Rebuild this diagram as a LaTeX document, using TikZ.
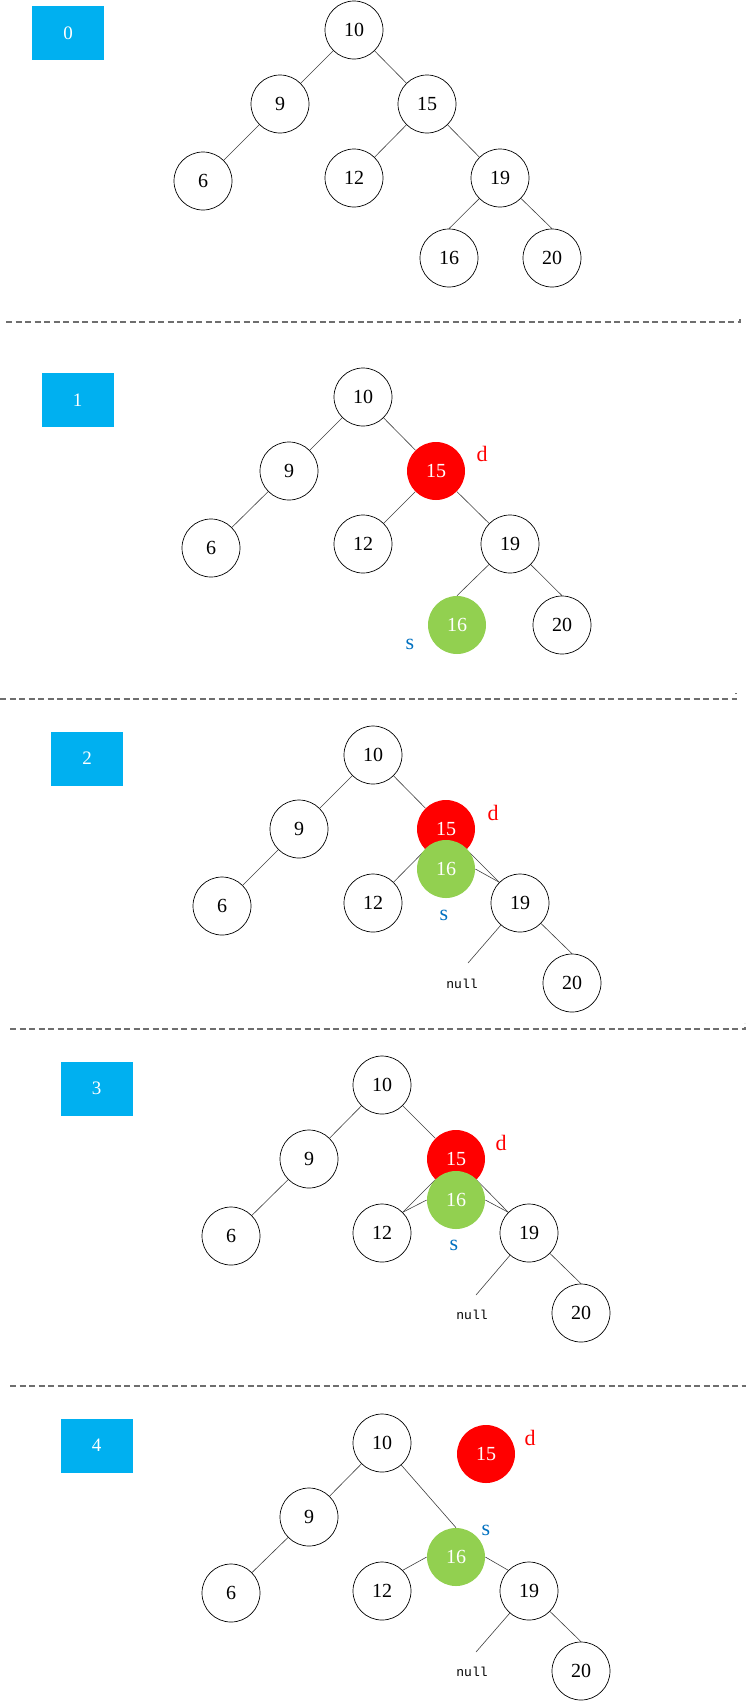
\documentclass[tikz,border=0pt]{standalone}
\usepackage{fontspec}
\setmainfont{Liberation Serif}
\newfontfamily\monofnt{Liberation Mono}
\usetikzlibrary{backgrounds}
\definecolor{boxblue}{HTML}{00B0F0}
\definecolor{sgreen}{HTML}{92D050}
\definecolor{sblue}{HTML}{0070C0}
\definecolor{linegray}{HTML}{404040}
\definecolor{dashgray}{HTML}{6E6E6E}
\tikzset{
	vtx/.style={circle, draw=black, line width=0.7pt, fill=white, minimum size=58pt, inner sep=0pt, font=\fontsize{20}{24}\selectfont},
	delvtx/.style={vtx, draw=none, fill=red, text=white},
	sucvtx/.style={vtx, draw=none, fill=sgreen, text=white},
	stagebox/.style={fill=boxblue, text=white, minimum width=72pt, minimum height=54pt, inner sep=0pt, font=\fontsize{19}{22}\selectfont},
	link/.style={draw=linegray, line width=0.6pt},
	sepline/.style={draw=dashgray, line width=1.2pt, dash pattern=on 6pt off 3.5pt},
	dtag/.style={text=red, font=\fontsize{22}{26}\selectfont},
	stag/.style={text=sblue, font=\fontsize{22}{26}\selectfont},
	niltxt/.style={font=\monofnt\fontsize{13}{15}\selectfont}
}

\begin{document}
\begin{tikzpicture}[x=1pt, y=-1pt]
		\useasboundingbox (0,0) rectangle (746,1701);
		%%%%% STAGE 0 %%%%%
		\node[stagebox] (s0) at (68,33) {0};
		\node[vtx] (a10) at (354,30) {10};
		\node[vtx] (a9) at (280,104) {9};
		\node[vtx] (a15) at (427,104) {15};
		\node[vtx] (a6) at (203,181) {6};
		\node[vtx] (a12) at (354,178) {12};
		\node[vtx] (a19) at (500,178) {19};
		\node[vtx] (a16) at (449,258) {16};
		\node[vtx] (a20) at (552,258) {20};
		\begin{scope}[on background layer]
			\draw[link] (a10) -- (a9);
			\draw[link] (a10) -- (a15);
			\draw[link] (a9) -- (a6);
			\draw[link] (a15) -- (a12);
			\draw[link] (a15) -- (a19);
			\draw[link] (a19) -- (a16.north);
			\draw[link] (a19) -- (a20.north);
		\end{scope}
		\draw[sepline] (6,322) -- (740,322) -- (740,316);
		
		%%%%% STAGE 1 %%%%%
		\node[stagebox] (s1) at (77.5,400) {1};
		\node[vtx] (b10) at (363,397) {10};
		\node[vtx] (b9) at (289,471) {9};
		\node[delvtx] (b15) at (436,471) {15};
		\node[vtx] (b6) at (211,548) {6};
		\node[vtx] (b12) at (363,544) {12};
		\node[vtx] (b19) at (510,544) {19};
		\node[sucvtx] (b16) at (457,625) {16};
		\node[vtx] (b20) at (562,625) {20};
		\node[dtag] (bd) at (482,454) {d};
		\node[stag] (bs) at (410,644) {s};
		\begin{scope}[on background layer]
			\draw[link] (b10) -- (b9);
			\draw[link] (b10) -- (b15);
			\draw[link] (b9) -- (b6);
			\draw[link] (b15) -- (b12);
			\draw[link] (b15) -- (b19);
			\draw[link] (b19) -- (b16.north);
			\draw[link] (b19) -- (b20.north);
		\end{scope}
		\draw[sepline] (0,699) -- (736,699) -- (736,693);
		
		%%%%% STAGE 2 %%%%%
		\node[stagebox] (s2) at (87,758.5) {2};
		\node[vtx] (c10) at (373,755) {10};
		\node[vtx] (c9) at (299,829) {9};
		\node[delvtx] (c15) at (446,829) {15};
		\node[sucvtx] (c16) at (446,869) {16};
		\node[vtx] (c6) at (222,906) {6};
		\node[vtx] (c12) at (373,903) {12};
		\node[vtx] (c19) at (520,903) {19};
		\node[vtx] (c20) at (572,983) {20};
		\node[niltxt] (cnull) at (462,984) {null};
		\coordinate (cnil) at (468,963);
		\node[dtag] (cd) at (493,813) {d};
		\node[stag] (cs) at (444,915) {s};
		\begin{scope}[on background layer]
			\draw[link] (c10) -- (c9);
			\draw[link] (c10) -- (c15);
			\draw[link] (c9) -- (c6);
			\draw[link] (c15) -- (c12);
			\draw[link] (c15) -- (c19.north west);
			\draw[link] (c16.east) -- (c19.north west);
			\draw[link] (c19) -- (cnil);
			\draw[link] (c19) -- (c20.north);
		\end{scope}
		\draw[sepline] (10,1029) -- (745,1029) -- (745,1023);
		
		%%%%% STAGE 3 %%%%%
		\node[stagebox] (s3) at (96.5,1088.5) {3};
		\node[vtx] (d10) at (382,1085) {10};
		\node[vtx] (d9) at (309,1159) {9};
		\node[delvtx] (d15) at (456,1159) {15};
		\node[sucvtx] (d16) at (456,1200) {16};
		\node[vtx] (d6) at (231,1236) {6};
		\node[vtx] (d12) at (382,1233) {12};
		\node[vtx] (d19) at (529,1233) {19};
		\node[vtx] (d20) at (581,1313) {20};
		\node[niltxt] (dnull) at (472,1315) {null};
		\coordinate (dnil) at (476,1295);
		\node[dtag] (dd) at (501,1143) {d};
		\node[stag] (ds) at (454,1245) {s};
		\begin{scope}[on background layer]
			\draw[link] (d10) -- (d9);
			\draw[link] (d10) -- (d15);
			\draw[link] (d9) -- (d6);
			\draw[link] (d12.north east) -- (d15);
			\draw[link] (d12.north east) -- (d16.west);
			\draw[link] (d15) -- (d19.north west);
			\draw[link] (d16.east) -- (d19.north west);
			\draw[link] (d19) -- (dnil);
			\draw[link] (d19) -- (d20.north);
		\end{scope}
		\draw[sepline] (10,1386) -- (746,1386);
		
		%%%%% STAGE 4 %%%%%
		\node[stagebox] (s4) at (96.5,1445.5) {4};
		\node[vtx] (e10) at (382,1443) {10};
		\node[delvtx] (e15) at (486,1454) {15};
		\node[dtag] (ed) at (530,1438) {d};
		\node[vtx] (e9) at (309,1517) {9};
		\node[sucvtx] (e16) at (456,1557) {16};
		\node[stag] (es) at (486,1530) {s};
		\node[vtx] (e6) at (231,1593) {6};
		\node[vtx] (e12) at (382,1591) {12};
		\node[vtx] (e19) at (529,1591) {19};
		\node[vtx] (e20) at (581,1671) {20};
		\node[niltxt] (enull) at (472,1672) {null};
		\coordinate (enil) at (476,1652);
		\begin{scope}[on background layer]
			\draw[link] (e10) -- (e9);
			\draw[link] (e9) -- (e6);
			\draw[link] (e10) -- (e16.north);
			\draw[link] (e16.west) -- (e12.north east);
			\draw[link] (e16.east) -- (e19.north west);
			\draw[link] (e19) -- (enil);
			\draw[link] (e19) -- (e20.north);
		\end{scope}
		%%%%% END %%%%%
	\end{tikzpicture}
\end{document}
